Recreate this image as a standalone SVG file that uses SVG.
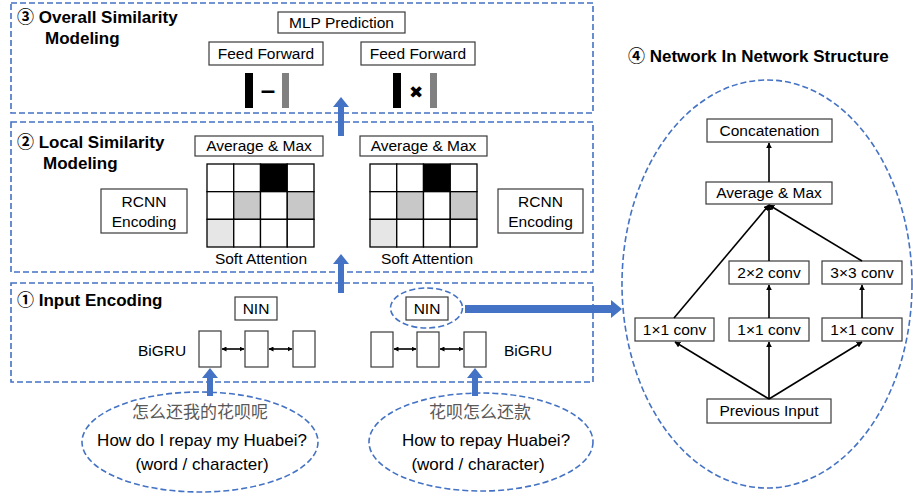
<svg xmlns="http://www.w3.org/2000/svg" width="913" height="498" viewBox="0 0 913 498">
<defs>
<style>
.dash{fill:none;stroke:#4472C4;stroke-width:1.6;stroke-dasharray:6 3}
.box{fill:#fff;stroke:#3a3a3a;stroke-width:1.2}
.cell{stroke:#000;stroke-width:1.3}
.t{font-family:"Liberation Sans",Arial,"Noto Sans CJK SC",sans-serif;font-size:15.5px;fill:#000;text-anchor:middle}
.ti{font-family:"Liberation Sans",Arial,"Noto Sans CJK SC",sans-serif;font-size:17px;font-weight:bold;fill:#000}
.el{font-family:"Liberation Sans",Arial,"Noto Sans CJK SC",sans-serif;font-size:17px;fill:#000;text-anchor:middle}
.cn{font-family:"Noto Sans CJK SC",sans-serif;font-size:17px;fill:#595959;text-anchor:middle}
.blue{fill:#4472C4}
.ln{stroke:#000;stroke-width:1.6;fill:none}
</style>
<marker id="ah" viewBox="0 0 10 10" refX="9" refY="5" markerWidth="5" markerHeight="5" orient="auto-start-reverse" markerUnits="userSpaceOnUse">
<path d="M0,0 L10,5 L0,10 z" fill="#000"/>
</marker>
<marker id="ah2" viewBox="0 0 10 10" refX="9" refY="5" markerWidth="6" markerHeight="6" orient="auto-start-reverse" markerUnits="userSpaceOnUse">
<path d="M0,0 L10,5 L0,10 z" fill="#000"/>
</marker>
</defs>
<rect width="913" height="498" fill="#fff"/>

<!-- Panels -->
<g id="panel-overall">
<rect class="dash" x="11" y="3" width="582" height="110"/>
<text class="ti" x="17" y="23">③ Overall Similarity</text>
<text class="ti" x="45" y="44">Modeling</text>
</g>
<g id="panel-local">
<rect class="dash" x="11" y="122" width="582" height="150"/>
<text class="ti" x="17" y="148">② Local Similarity</text>
<text class="ti" x="43" y="169">Modeling</text>
</g>
<g id="panel-input">
<rect class="dash" x="11" y="283" width="582" height="99"/>
<text class="ti" x="17" y="306">① Input Encoding</text>
</g>
<g id="panel-nin">
<text class="ti" x="628" y="62">④ Network In Network Structure</text>
<ellipse class="dash" cx="767" cy="284" rx="145" ry="204"/>
</g>

<!-- Overall similarity nodes -->
<g id="mlp"><rect class="box" x="278" y="12" width="127" height="21"/><text class="t" x="341.5" y="28">MLP Prediction</text></g>
<g id="ff-left"><rect class="box" x="209" y="42" width="114" height="23"/><text class="t" x="266" y="59">Feed Forward</text></g>
<g id="ff-right"><rect class="box" x="361" y="42" width="114" height="23"/><text class="t" x="418" y="59">Feed Forward</text></g>
<g id="diff">
<rect x="245" y="73" width="8" height="35" fill="#000"/>
<rect x="282" y="73" width="7" height="35" fill="#808080"/>
<text x="268" y="99" style="font-family:'Liberation Sans',Arial,sans-serif;font-size:26px;font-weight:bold;text-anchor:middle">–</text>
</g>
<g id="prod">
<rect x="393" y="73" width="8" height="35" fill="#000"/>
<rect x="430" y="73" width="7" height="35" fill="#808080"/>
<text x="416" y="98" style="font-family:'DejaVu Sans',sans-serif;font-size:17px;text-anchor:middle">✖</text>
</g>

<!-- Local similarity nodes -->
<g id="avgmax-left"><rect class="box" x="195" y="136" width="128" height="20"/><text class="t" x="259" y="151">Average &amp; Max</text></g>
<g id="avgmax-right"><rect class="box" x="360" y="136" width="127" height="20"/><text class="t" x="423.5" y="151">Average &amp; Max</text></g>
<g id="grid-left">
<rect class="cell" x="207" y="164" width="26.75" height="27.67" fill="#fff"/>
<rect class="cell" x="233.75" y="164" width="26.75" height="27.67" fill="#fff"/>
<rect class="cell" x="260.5" y="164" width="26.75" height="27.67" fill="#000"/>
<rect class="cell" x="287.25" y="164" width="26.75" height="27.67" fill="#fff"/>
<rect class="cell" x="207" y="191.67" width="26.75" height="27.67" fill="#fff"/>
<rect class="cell" x="233.75" y="191.67" width="26.75" height="27.67" fill="#c8c8c8"/>
<rect class="cell" x="260.5" y="191.67" width="26.75" height="27.67" fill="#fff"/>
<rect class="cell" x="287.25" y="191.67" width="26.75" height="27.67" fill="#c8c8c8"/>
<rect class="cell" x="207" y="219.33" width="26.75" height="27.67" fill="#e6e6e6"/>
<rect class="cell" x="233.75" y="219.33" width="26.75" height="27.67" fill="#fff"/>
<rect class="cell" x="260.5" y="219.33" width="26.75" height="27.67" fill="#fff"/>
<rect class="cell" x="287.25" y="219.33" width="26.75" height="27.67" fill="#fff"/>
<text class="t" x="261" y="264">Soft Attention</text>
</g>
<g id="grid-right">
<rect class="cell" x="370" y="164" width="26.75" height="27.67" fill="#fff"/>
<rect class="cell" x="396.75" y="164" width="26.75" height="27.67" fill="#fff"/>
<rect class="cell" x="423.5" y="164" width="26.75" height="27.67" fill="#000"/>
<rect class="cell" x="450.25" y="164" width="26.75" height="27.67" fill="#fff"/>
<rect class="cell" x="370" y="191.67" width="26.75" height="27.67" fill="#fff"/>
<rect class="cell" x="396.75" y="191.67" width="26.75" height="27.67" fill="#c8c8c8"/>
<rect class="cell" x="423.5" y="191.67" width="26.75" height="27.67" fill="#fff"/>
<rect class="cell" x="450.25" y="191.67" width="26.75" height="27.67" fill="#c8c8c8"/>
<rect class="cell" x="370" y="219.33" width="26.75" height="27.67" fill="#e6e6e6"/>
<rect class="cell" x="396.75" y="219.33" width="26.75" height="27.67" fill="#fff"/>
<rect class="cell" x="423.5" y="219.33" width="26.75" height="27.67" fill="#fff"/>
<rect class="cell" x="450.25" y="219.33" width="26.75" height="27.67" fill="#fff"/>
<text class="t" x="427" y="264">Soft Attention</text>
</g>
<g id="rcnn-left"><rect class="box" x="101" y="189" width="86" height="44"/><text class="t" x="144" y="207">RCNN</text><text class="t" x="144" y="227">Encoding</text></g>
<g id="rcnn-right"><rect class="box" x="498" y="189" width="85" height="44"/><text class="t" x="540.5" y="207">RCNN</text><text class="t" x="540.5" y="227">Encoding</text></g>

<!-- Input encoding nodes -->
<g id="nin-left"><rect class="box" x="235" y="297" width="42" height="23"/><text class="t" x="256" y="314">NIN</text></g>
<g id="nin-right"><ellipse class="dash" cx="426.5" cy="308" rx="36" ry="20"/><rect class="box" x="406" y="297" width="42" height="23"/><text class="t" x="427" y="314">NIN</text></g>
<g id="bigru-left">
<text class="t" x="138" y="356" style="text-anchor:start">BiGRU</text>
<rect class="box" x="199" y="331" width="22" height="36"/>
<rect class="box" x="245" y="331" width="23" height="36"/>
<rect class="box" x="293" y="331" width="22" height="36"/>
</g>
<g id="bigru-right">
<text class="t" x="504" y="356" style="text-anchor:start">BiGRU</text>
<rect class="box" x="371" y="332" width="22" height="35"/>
<rect class="box" x="417" y="332" width="22" height="35"/>
<rect class="box" x="464" y="332" width="22" height="35"/>
</g>

<!-- Inputs -->
<g id="input-left">
<ellipse class="dash" cx="200" cy="442" rx="118" ry="50"/>
<text class="cn" x="200" y="418">怎么还我的花呗呢</text>
<text class="el" x="202" y="446">How do I repay my Huabei?</text>
<text class="el" x="202" y="470">(word / character)</text>
</g>
<g id="input-right">
<ellipse class="dash" cx="481" cy="442" rx="112" ry="49"/>
<text class="cn" x="480" y="418">花呗怎么还款</text>
<text class="el" x="486" y="446">How to repay Huabei?</text>
<text class="el" x="478" y="470">(word / character)</text>
</g>

<!-- NIN structure nodes -->
<g id="concat"><rect class="box" x="707" y="119" width="125" height="23"/><text class="t" x="769.5" y="136">Concatenation</text></g>
<g id="nin-avgmax"><rect class="box" x="706" y="182" width="126" height="22"/><text class="t" x="769" y="198">Average &amp; Max</text></g>
<g id="conv2"><rect class="box" x="729" y="261" width="80" height="23"/><text class="t" x="769" y="278">2×2 conv</text></g>
<g id="conv3"><rect class="box" x="822" y="261" width="80" height="23"/><text class="t" x="862" y="278">3×3 conv</text></g>
<g id="conv1a"><rect class="box" x="635" y="318" width="79" height="23"/><text class="t" x="674.5" y="335">1×1 conv</text></g>
<g id="conv1b"><rect class="box" x="729" y="318" width="80" height="23"/><text class="t" x="769" y="335">1×1 conv</text></g>
<g id="conv1c"><rect class="box" x="822" y="318" width="80" height="23"/><text class="t" x="862" y="335">1×1 conv</text></g>
<g id="prev"><rect class="box" x="707" y="399" width="124" height="24"/><text class="t" x="769" y="416">Previous Input</text></g>

<!-- Connectors -->
<g id="connectors">
<polygon class="blue" points="338,136 338,107 333,107 341,97 349,107 344,107 344,136"/>
<polygon class="blue" points="338,293 338,264 333,264 341,254 349,264 344,264 344,293"/>
<polygon class="blue" points="207,396 207,378 202,378 210,368 218,378 213,378 213,396"/>
<polygon class="blue" points="472,396 472,378 467,378 475,368 483,378 478,378 478,396"/>
<polygon class="blue" points="465,305 611,305 611,300 622,309 611,318 611,313 465,313"/>
<line class="ln" x1="222" y1="349" x2="244" y2="349" marker-start="url(#ah)" marker-end="url(#ah)"/>
<line class="ln" x1="269" y1="349" x2="292" y2="349" marker-start="url(#ah)" marker-end="url(#ah)"/>
<line class="ln" x1="394" y1="349" x2="416" y2="349" marker-start="url(#ah)" marker-end="url(#ah)"/>
<line class="ln" x1="440" y1="349" x2="463" y2="349" marker-start="url(#ah)" marker-end="url(#ah)"/>
<line class="ln" x1="769" y1="182" x2="769" y2="143" marker-end="url(#ah2)"/>
<line class="ln" x1="674" y1="318" x2="769" y2="205" marker-end="url(#ah2)"/>
<line class="ln" x1="769" y1="261" x2="769" y2="205" marker-end="url(#ah2)"/>
<line class="ln" x1="862" y1="261" x2="769" y2="205" marker-end="url(#ah2)"/>
<line class="ln" x1="769" y1="318" x2="769" y2="285" marker-end="url(#ah2)"/>
<line class="ln" x1="862" y1="318" x2="862" y2="285" marker-end="url(#ah2)"/>
<line class="ln" x1="769" y1="399" x2="675" y2="342" marker-end="url(#ah2)"/>
<line class="ln" x1="769" y1="399" x2="769" y2="342" marker-end="url(#ah2)"/>
<line class="ln" x1="769" y1="399" x2="862" y2="342" marker-end="url(#ah2)"/>
</g>
</svg>
